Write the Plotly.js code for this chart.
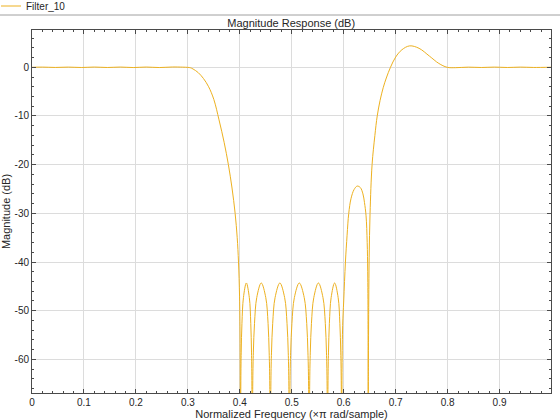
<!DOCTYPE html>
<html>
<head>
<meta charset="utf-8">
<script src="https://cdn.plot.ly/plotly-3.0.1.min.js"></script>
<style>html,body{margin:0;padding:0;background:#fff;}#chart{width:560px;height:420px;}</style>
</head>
<body>
<div id="chart"></div>
<script>
// Normalized frequency (x pi rad/sample)
var freq = [
  0, 0.02, 0.045, 0.07, 0.095, 0.12, 0.145, 0.17, 0.195, 0.22, 0.245, 0.27, 0.29, 0.30,
  0.305, 0.31, 0.32, 0.33, 0.34, 0.35, 0.36, 0.37, 0.378, 0.385, 0.391, 0.395, 0.3975, 0.3995, 0.4005, 0.4013,
  0.4020, 0.4027, 0.4041, 0.4070, 0.4126, 0.4183, 0.4211, 0.4225, 0.4232, 0.4239,
  0.4250, 0.4261, 0.4283, 0.4326, 0.4413, 0.4500, 0.4544, 0.4565, 0.4576, 0.4587,
  0.4599, 0.4610, 0.4633, 0.4679, 0.4771, 0.4863, 0.4909, 0.4932, 0.4943, 0.4955,
  0.4967, 0.4979, 0.5003, 0.5050, 0.5145, 0.5240, 0.5288, 0.5311, 0.5323, 0.5335,
  0.5346, 0.5357, 0.5379, 0.5424, 0.5513, 0.5601, 0.5646, 0.5668, 0.5679, 0.5690,
  0.5698, 0.5707, 0.5724, 0.5758, 0.5825, 0.5893, 0.5926, 0.5943, 0.5952, 0.5960,
  0.5968, 0.598, 0.600, 0.6033, 0.6065, 0.6097, 0.614, 0.620, 0.626, 0.632, 0.637, 0.640, 0.643, 0.6452, 0.6462, 0.6468, 0.6470,
  0.6476, 0.6482, 0.6490, 0.6507, 0.6546, 0.6600, 0.6645, 0.670, 0.676, 0.682, 0.690, 0.700, 0.712, 0.727, 0.745, 0.765, 0.783, 0.799,
  0.815, 0.84, 0.865, 0.89, 0.915, 0.94, 0.965, 0.999
];
// Magnitude in dB (nulls fall below the axis)
var magDb = [
  0, 0.04, -0.03, 0.04, -0.04, 0.05, -0.04, 0.05, -0.05, 0.05, -0.05, 0.06, 0.03, -0.02,
  -0.1, -0.35, -1.1, -2.3, -4.0, -6.6, -10.8, -15.5, -20, -24.8, -30, -35, -40, -47, -56, -90,
  -64.3, -58.5, -52.6, -47.3, -44.3, -47.3, -52.6, -58.5, -64.3, -90,
  -64.3, -58.5, -52.6, -47.3, -44.3, -47.3, -52.6, -58.5, -64.3, -90,
  -64.3, -58.5, -52.6, -47.3, -44.3, -47.3, -52.6, -58.5, -64.3, -90,
  -64.3, -58.5, -52.6, -47.3, -44.3, -47.3, -52.6, -58.5, -64.3, -90,
  -64.3, -58.5, -52.6, -47.3, -44.3, -47.3, -52.6, -58.5, -64.3, -90,
  -64.3, -58.5, -52.6, -47.3, -44.3, -47.3, -52.6, -58.5, -64.3, -90,
  -62, -53, -48, -40, -34.5, -30, -27, -25.1, -24.4, -24.7, -26, -27.8, -30.5, -36, -42, -52, -90,
  -60, -48, -39, -30, -20, -14, -10, -6.8, -4.2, -2.2, 0, 2.1, 3.6, 4.4, 3.9, 2.3, 0.8, 0,
  -0.08, 0.03, -0.04, 0.04, -0.04, 0.04, -0.03, 0.01
];
var xTickVals = [0, 0.1, 0.2, 0.3, 0.4, 0.5, 0.6, 0.7, 0.8, 0.9];
var xTickText = ['0', '0.1', '0.2', '0.3', '0.4', '0.5', '0.6', '0.7', '0.8', '0.9'];
var yTickVals = [-60, -50, -40, -30, -20, -10, 0];
var yTickText = ['-60', '-50', '-40', '-30', '-20', '-10', '0'];
var seriesName = 'Filter_10';

var FONT = 'Liberation Sans, Arial, Helvetica, sans-serif';
var TXT = '#262626';
var AX = '#4a4a4a';
var GRID = '#dcdcdc';
var LINE_COLOR = '#EDB120';

var trace = {
  x: freq, y: magDb, type: 'scatter', mode: 'lines', name: seriesName,
  line: {color: LINE_COLOR, width: 1, shape: 'spline', smoothing: 1},
  hoverinfo: 'x+y', showlegend: false
};

var axisCommon = {
  showline: true, linecolor: AX, linewidth: 1, mirror: 'ticks',
  ticks: 'inside', ticklen: 4, tickcolor: AX, tickwidth: 1,
  showgrid: true, gridcolor: GRID, gridwidth: 1, zeroline: false,
  tickfont: {family: FONT, size: 10, color: TXT},
  tickmode: 'array', automargin: false
};

// plot area in pixels: left 32, right 551, top 30, bottom 393
function px2x(px) { return (px - 32) / 519; }
function py2y(py) { return (393 - py) / 363; }

var layout = {
  width: 560, height: 420,
  margin: {l: 32, r: 9, t: 30, b: 27, pad: 0},
  paper_bgcolor: '#ffffff', plot_bgcolor: '#ffffff',
  font: {family: FONT, size: 10, color: TXT},
  title: {text: 'Magnitude Response (dB)', font: {family: FONT, size: 11, color: TXT},
          x: 0.52, xref: 'container', y: 1 - 23/420, yref: 'container', xanchor: 'center', yanchor: 'middle'},
  xaxis: Object.assign({}, axisCommon, {
    range: [0, 0.999], tickvals: xTickVals, ticktext: xTickText,
    minor: {ticks: 'inside', ticklen: 2, tickcolor: AX, dtick: 0.02, tick0: 0, showgrid: false},
    title: {text: 'Normalized Frequency (\u00d7\u03c0 rad/sample)', font: {family: FONT, size: 11, color: TXT}, standoff: 3}
  }),
  yaxis: Object.assign({}, axisCommon, {
    range: [-66.9, 7.66], tickvals: yTickVals, ticktext: yTickText,
    minor: {ticks: 'inside', ticklen: 2, tickcolor: AX, dtick: 2, tick0: 0, showgrid: false},
    title: {text: 'Magnitude (dB)', font: {family: FONT, size: 11, color: TXT}, standoff: 6}
  }),
  showlegend: false,
  shapes: [
    {type: 'line', xref: 'paper', yref: 'paper', x0: px2x(0), x1: px2x(560), y0: py2y(15), y1: py2y(15),
     line: {color: '#a0a0a0', width: 1}},
    {type: 'line', xref: 'paper', yref: 'paper', x0: px2x(1), x1: px2x(21), y0: py2y(6), y1: py2y(6),
     line: {color: LINE_COLOR, width: 1}}
  ],
  annotations: [
    {text: seriesName, xref: 'paper', yref: 'paper', x: px2x(24), y: py2y(6.5), xanchor: 'left', yanchor: 'middle',
     showarrow: false, font: {family: FONT, size: 10, color: TXT}}
  ]
};

Plotly.newPlot('chart', [trace], layout, {displayModeBar: false, staticPlot: true});
</script>
</body>
</html>
